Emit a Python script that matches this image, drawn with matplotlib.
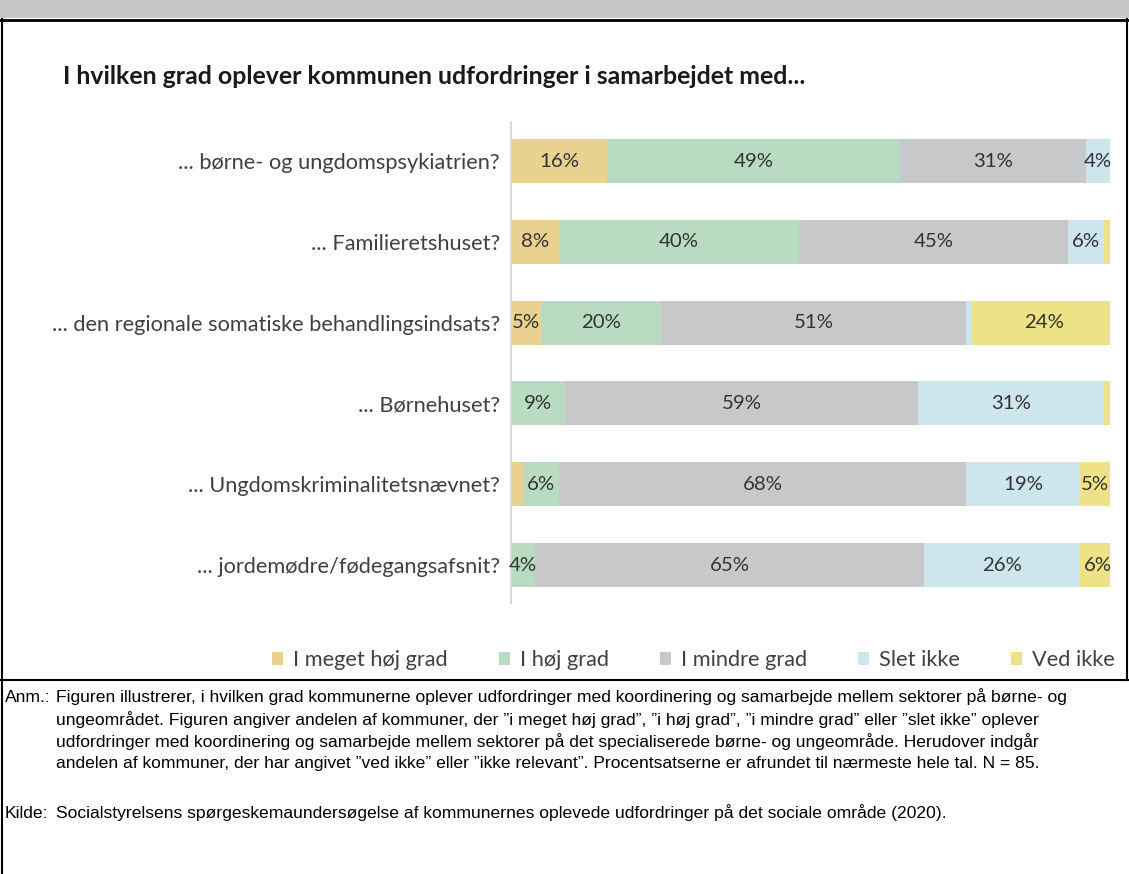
import matplotlib
matplotlib.use("Agg")
import matplotlib.pyplot as plt
from matplotlib.lines import Line2D
from matplotlib.patches import Rectangle
from matplotlib import font_manager
import numpy as np

# ---------------- data ----------------
categories = [
    "... børne- og ungdomspsykiatrien?",
    "... Familieretshuset?",
    "... den regionale somatiske behandlingsindsats?",
    "... Børnehuset?",
    "... Ungdomskriminalitetsnævnet?",
    "... jordemødre/fødegangsafsnit?",
]
series_names = ["I meget høj grad", "I høj grad", "I mindre grad", "Slet ikke", "Ved ikke"]
meget_hoj = [16, 8, 5, 0, 2, 0]
hoj = [49, 40, 20, 9, 6, 4]
mindre = [31, 45, 51, 59, 68, 65]
slet_ikke = [4, 6, 1, 31, 19, 26]
ved_ikke = [0, 1, 24, 1, 5, 6]
series = [meget_hoj, hoj, mindre, slet_ikke, ved_ikke]
colors = ["#E9D18F", "#B9DBC2", "#C7C8CA", "#CDE6EE", "#EDE286"]

title = "I hvilken grad oplever kommunen udfordringer i samarbejdet med..."
note_lines = [
    "Figuren illustrerer, i hvilken grad kommunerne oplever udfordringer med koordinering og samarbejde mellem sektorer på børne- og",
    "ungeområdet. Figuren angiver andelen af kommuner, der \u201di meget høj grad\u201d, \u201di høj grad\u201d, \u201di mindre grad\u201d eller \u201dslet ikke\u201d oplever",
    "udfordringer med koordinering og samarbejde mellem sektorer på det specialiserede børne- og ungeområde. Herudover indgår",
    "andelen af kommuner, der har angivet \u201dved ikke\u201d eller \u201dikke relevant\u201d. Procentsatserne er afrundet til nærmeste hele tal. N = 85.",
]
source = "Socialstyrelsens spørgeskemaundersøgelse af kommunernes oplevede udfordringer på det sociale område (2020)."

# ---------------- fonts ----------------
available = {f.name for f in font_manager.fontManager.ttflist}
chart_font = "Lato" if "Lato" in available else "DejaVu Sans"
note_font = "Liberation Sans Narrow" if "Liberation Sans Narrow" in available else "Liberation Sans"
plt.rcParams["font.family"] = [chart_font, "DejaVu Sans"]

W, H = 1129, 874
fig = plt.figure(figsize=(W / 100, H / 100), dpi=100)
renderer = fig.canvas.get_renderer()


def fx(px):
    return px / W


def fy(py):
    return 1 - py / H


def fit_width(t, target_px):
    w = t.get_window_extent(renderer).width
    t.set_fontsize(t.get_fontsize() * target_px / w)
    return t.get_fontsize()


# ---------------- frame ----------------
fig.add_artist(Rectangle((0, fy(18)), 1, 18 / H, transform=fig.transFigure,
                         facecolor="#C6C7C9", edgecolor="none"))
fig.add_artist(Line2D([0, 1], [fy(19.5), fy(19.5)], transform=fig.transFigure, color="black", lw=2))
fig.add_artist(Line2D([fx(2), fx(2)], [fy(19), 0], transform=fig.transFigure, color="black", lw=1.5))
fig.add_artist(Line2D([fx(1127), fx(1127)], [fy(19), fy(680)], transform=fig.transFigure, color="black", lw=1.5))
fig.add_artist(Line2D([0, 1], [fy(680), fy(680)], transform=fig.transFigure, color="black", lw=1.5))

# ---------------- axes ----------------
ax_left, ax_right, ax_top, ax_bot = 511, 1110, 122, 603
ax = fig.add_axes([fx(ax_left), fy(ax_bot), (ax_right - ax_left) / W, (ax_bot - ax_top) / H])
y = np.arange(len(categories))
ax.set_xlim(0, 100)
ax.set_ylim(5.47, -0.483)

# value label font size
tmp = fig.text(0, 0, "16%", family=chart_font, fontsize=14)
val_fs = fit_width(tmp, 40)
tmp.remove()

left = np.zeros(len(categories))
bars = []
for name, vals, c in zip(series_names, series, colors):
    vals = np.array(vals, dtype=float)
    b = ax.barh(y, vals, left=left, height=0.545, color=c, edgecolor="none", label=name)
    bars.append(b)
    for yi, (l, v) in enumerate(zip(left, vals)):
        if v >= 4:
            ax.text(l + v / 2, yi, f"{int(v)}%", ha="center", va="center",
                    fontsize=val_fs, color="#333333", family=chart_font)
    left += vals

ax.set_xticks([])
for s in ["top", "right", "bottom"]:
    ax.spines[s].set_visible(False)
ax.spines["left"].set_color("#D9D9D9")
ax.spines["left"].set_linewidth(1.5)

# category labels
tmp = fig.text(0, 0, categories[2], family=chart_font, fontsize=16)
cat_fs = fit_width(tmp, 450)
tmp.remove()
ax.set_yticks(y)
ax.set_yticklabels(categories, fontsize=cat_fs, color="#404040", family=chart_font)
ax.tick_params(axis="y", length=0, pad=11 * 72 / 100)

# title
tmp = fig.text(0, 0, title, family=chart_font, fontsize=20, fontweight="bold")
t_fs = fit_width(tmp, 745)
tmp.remove()
fig.text(fx(63), fy(84), title, family=chart_font, fontsize=t_fs, fontweight="bold",
         color="#1A1A1A", ha="left", va="baseline")

# legend: left edge at 272 px, right edge at ~1115 px
fs_px = cat_fs * 100 / 72
colsp = 46 / fs_px
leg = None
for _ in range(3):
    if leg is not None:
        leg.remove()
    leg = fig.legend(handles=bars, labels=series_names, ncol=5, frameon=False,
                     loc="center left", bbox_to_anchor=(fx(272), fy(660)),
                     handlelength=11 / fs_px, handleheight=11 / fs_px,
                     handletextpad=10 / fs_px, columnspacing=colsp,
                     borderpad=0, borderaxespad=0,
                     prop={"family": chart_font, "size": cat_fs})
    bb = leg.get_window_extent(renderer)
    diff = 1115 - bb.x1
    colsp += diff / 4 / fs_px
for t in leg.get_texts():
    t.set_color("#404040")

# notes
tmp = fig.text(0, 0, note_lines[0], family=note_font, fontsize=11)
n_fs = fit_width(tmp, 1008)
tmp.remove()
fig.text(fx(5), fy(697), "Anm.:", family=note_font, fontsize=n_fs, va="center", ha="left", color="black")
for i, line in enumerate(note_lines):
    fig.text(fx(56), fy(697 + 22.2 * i), line, family=note_font, fontsize=n_fs,
             va="center", ha="left", color="black")
fig.text(fx(5), fy(813), "Kilde:", family=note_font, fontsize=n_fs, va="center", ha="left", color="black")
fig.text(fx(56), fy(813), source, family=note_font, fontsize=n_fs, va="center", ha="left", color="black")

fig.savefig("out.png", dpi=100)
